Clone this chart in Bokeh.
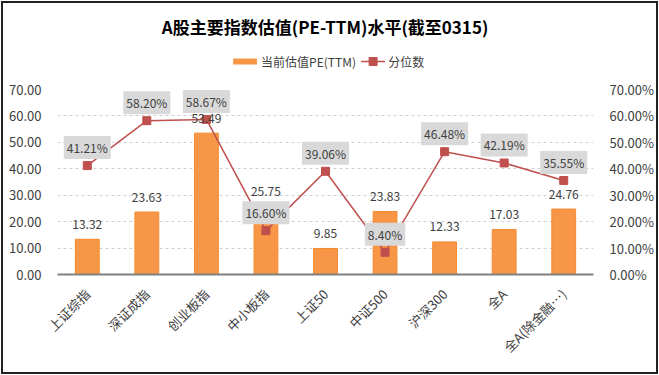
from bokeh.plotting import figure
from bokeh.layouts import column
from bokeh.models import (ColumnDataSource, Range1d, LinearAxis, FixedTicker,
                          PrintfTickFormatter)
from bokeh.embed import file_html
from bokeh.resources import INLINE
import math

categories = ["上证综指", "深证成指", "创业板指", "中小板指", "上证50", "中证500", "沪深300", "全A", "全A(除金融…)"]
pe_values = [13.32, 23.63, 53.49, 25.75, 9.85, 23.83, 12.33, 17.03, 24.76]
pct_values = [41.21, 58.20, 58.67, 16.60, 39.06, 8.40, 46.48, 42.19, 35.55]
left_ticks = [0, 10, 20, 30, 40, 50, 60, 70]
title_text = "A股主要指数估值(PE-TTM)水平(截至0315)"
legend_labels = ["当前估值PE(TTM)", "分位数"]

FONT = "Noto Sans CJK SC"
ORANGE = "#F79646"
RED = "#C0504D"
TXT = "#404040"
W = 653
HH = 67

# ---------- header (title + legend) ----------
hdr = figure(width=W, height=HH, x_range=Range1d(0, W), y_range=Range1d(0, HH),
             output_backend="svg", toolbar_location=None, min_border=0)
hdr.axis.visible = False
hdr.grid.visible = False
hdr.outline_line_color = None
hdr.text(x=[326], y=[44], text=[title_text], text_align="center", text_baseline="middle",
         text_font={"value": FONT}, text_font_size="17px", text_font_style="bold",
         text_color="#000000")
hdr.line(x=[214, 243], y=[9, 9], line_color=ORANGE, line_width=6)
hdr.text(x=[248], y=[9], text=[legend_labels[0]], text_align="left", text_baseline="middle",
         text_font={"value": FONT}, text_font_size="12px", text_color=TXT)
hdr.line(x=[370, 399], y=[9, 9], line_color=RED, line_width=1.5)
hdr.scatter(x=[384.5], y=[9], marker="square", size=8, fill_color=RED, line_color=RED)
hdr.text(x=[403], y=[9], text=[legend_labels[1]], text_align="left", text_baseline="middle",
         text_font={"value": FONT}, text_font_size="12px", text_color=TXT)

# ---------- main chart ----------
src = ColumnDataSource(dict(
    cat=categories,
    pe=pe_values,
    pct=pct_values,
    pe_lbl=[f"{v:.2f}" for v in pe_values],
    pct_lbl=[f"{v:.2f}%" for v in pct_values],
))

p = figure(width=W, height=369 - HH, x_range=categories, y_range=Range1d(0, 70),
           output_backend="svg", toolbar_location=None,
           min_border_left=54, min_border_right=61, min_border_top=19, min_border_bottom=98)
p.extra_y_ranges = {"pct": Range1d(0, 70)}

p.vbar(x="cat", top="pe", width=0.4, source=src, fill_color=ORANGE,
       line_color="#F58A2E", line_width=1)
p.line(x="cat", y="pct", source=src, y_range_name="pct", line_color=RED, line_width=1.5)
p.scatter(x="cat", y="pct", source=src, y_range_name="pct", marker="square",
          size=8, fill_color=RED, line_color=RED)

p.text(x="cat", y="pe", text="pe_lbl", source=src, y_offset=-15,
       text_align="center", text_baseline="middle", text_font_size="12px",
       text_color=TXT, text_font={"value": FONT})

p.text(x="cat", y="pct", text="pct_lbl", source=src, y_range_name="pct", y_offset=-18,
       text_align="center", text_baseline="middle", text_font_size="12px",
       text_color=TXT, text_font={"value": FONT},
       background_fill_color="#D9D9D9", padding=3)

p.yaxis.ticker = FixedTicker(ticks=left_ticks)
p.yaxis.formatter = PrintfTickFormatter(format="%.2f")
ax_r = LinearAxis(y_range_name="pct", ticker=FixedTicker(ticks=left_ticks),
                  formatter=PrintfTickFormatter(format="%.2f%%"))
p.add_layout(ax_r, "right")
for ax in [p.yaxis[0], ax_r]:
    ax.axis_line_color = None
    ax.major_tick_line_color = None
    ax.minor_tick_line_color = None
    ax.major_label_text_font = FONT
    ax.major_label_text_font_size = "13px"
    ax.major_label_text_color = TXT
    ax.major_label_standoff = 10

p.xaxis.axis_line_color = "#808080"
p.xaxis.axis_line_width = 2
p.xaxis.major_tick_line_color = None
p.xaxis.minor_tick_line_color = None
p.xaxis.major_label_orientation = math.pi / 4
p.xaxis.major_label_text_font = FONT
p.xaxis.major_label_text_font_size = "13px"
p.xaxis.major_label_text_color = TXT
p.xaxis.major_label_standoff = 11

p.xgrid.grid_line_color = None
p.ygrid.grid_line_color = "#D0D0D0"
p.ygrid.grid_line_dash = "3 3"
p.outline_line_color = None

root = column(hdr, p, spacing=0)
root.styles = {"border": "2px solid #222", "margin": "1px 0 0 1px"}

open("out.html", "w").write(file_html(root, INLINE))
